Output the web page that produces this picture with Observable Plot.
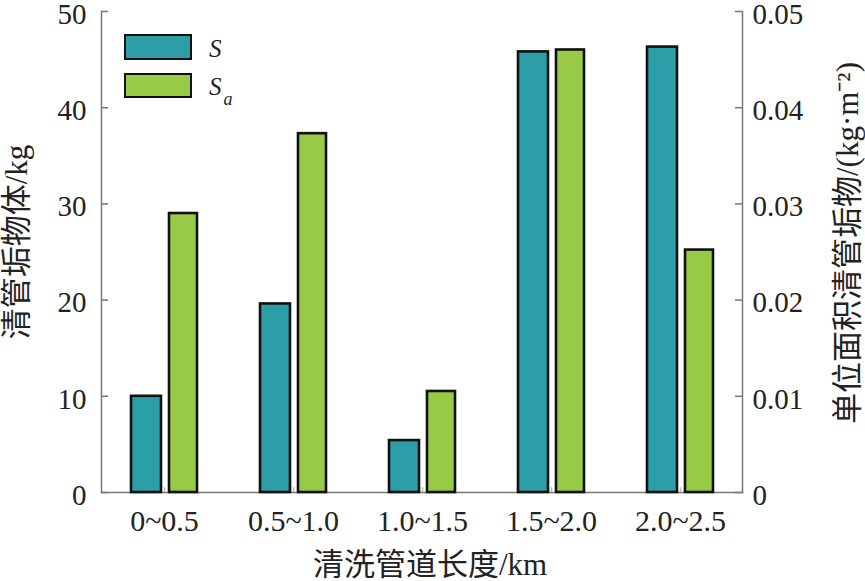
<!DOCTYPE html>
<html><head><meta charset="utf-8">
<script src="https://cdn.jsdelivr.net/npm/d3@7"></script>
<script src="https://cdn.jsdelivr.net/npm/@observablehq/plot@0.6"></script>
<style>
body{margin:0;background:#fff;}
#wrap{position:relative;width:865px;height:581px;overflow:hidden;}
#wrap svg{font-family:'Liberation Serif','Times New Roman','Noto Sans CJK SC',serif;}
.sw{position:absolute;box-sizing:border-box;border:2.6px solid #111;}
.lab{position:absolute;font-family:'Liberation Serif','Times New Roman',serif;font-style:italic;color:#222;line-height:1;white-space:nowrap;}
</style></head><body><div id="wrap"></div>
<script>
// ---- data ----
const categories = ["0~0.5", "0.5~1.0", "1.0~1.5", "1.5~2.0", "2.0~2.5"];
const seriesNames = ["S", "Sa"];
const massS = [10.0, 19.6, 5.4, 45.8, 46.3];                 // kg (left axis)
const perAreaSa = [0.0290, 0.0373, 0.0105, 0.0460, 0.0252];  // kg·m^-2 (right axis)
const leftTicks = [0, 10, 20, 30, 40, 50];
const rightTicks = [0, 0.01, 0.02, 0.03, 0.04, 0.05];
const seriesColors = ["#2c9ea7", "#98ca46"];
const xTitle = "清洗管道长度/km";
const leftTitle = "清管垢物体/kg";
const rightTitle = "单位面积清管垢物/(kg·m⁻²)";

// right axis 0.05 corresponds to left axis 50
const RIGHT_TO_LEFT = 1000;

const dataS = categories.map((c, i) => ({cat: c, series: "S", v: massS[i]}));
const dataSa = categories.map((c, i) => ({cat: c, series: "Sa", v: perAreaSa[i] * RIGHT_TO_LEFT}));
const rightTicksOnLeft = rightTicks.map(t => t * RIGHT_TO_LEFT);

const font = "'Liberation Serif', 'Times New Roman', 'Noto Sans CJK SC', serif";
const W = 865, ML = 101, MR = 123, TICK = 7;
const frameW = W - ML - MR;

const chart = Plot.plot({
  width: W,
  height: 581,
  marginLeft: ML,
  marginRight: MR,
  marginTop: 11,
  marginBottom: 89,
  style: {fontFamily: font, fontSize: "30px", color: "#222", background: "white", overflow: "visible"},
  x: {domain: categories, paddingInner: 0.489, paddingOuter: 0.224, axis: null, label: null},
  y: {domain: [0, 50], axis: null, label: null},
  color: {domain: seriesNames, range: seriesColors},
  marks: [
    Plot.frame({anchor: "left", stroke: "#777", strokeWidth: 1.5}),
    Plot.frame({anchor: "right", stroke: "#777", strokeWidth: 1.5}),
    Plot.frame({anchor: "bottom", stroke: "#777", strokeWidth: 1.5}),
    // inward ticks
    Plot.ruleY(leftTicks, {y: d => d, insetRight: frameW - TICK, stroke: "#777", strokeWidth: 1.5}),
    Plot.ruleY(rightTicksOnLeft, {y: d => d, insetLeft: frameW - TICK, stroke: "#777", strokeWidth: 1.5}),
    Plot.ruleX(categories, {x: d => d, y1: 0, y2: 0.5, stroke: "#bbb", strokeWidth: 1.5}),
    Plot.barY(dataS, {x: "cat", y: "v", fill: "series", stroke: "#111", strokeWidth: 2.6, insetRight: 36}),
    Plot.barY(dataSa, {x: "cat", y: "v", fill: "series", stroke: "#111", strokeWidth: 2.6, insetLeft: 38}),
    Plot.axisX({tickSize: 0, tickPadding: 17, fontSize: 30, label: null, fontFamily: font}),
    Plot.axisY({anchor: "left", ticks: leftTicks, tickSize: 0, tickPadding: 15, dy: 3, fontSize: 29, label: null, fontFamily: font, tickFormat: d => String(d)}),
    Plot.axisY({anchor: "right", ticks: rightTicksOnLeft, tickSize: 0, tickPadding: 10, dy: 3, fontSize: 29, label: null, fontFamily: font,
      tickFormat: d => d === 0 ? "0" : (d / RIGHT_TO_LEFT).toFixed(2)}),
    Plot.text([xTitle], {text: d => d, frameAnchor: "bottom", textAnchor: "middle", dx: 8, dy: 73, fontSize: 31, lineAnchor: "middle", fill: "#222", fontFamily: font}),
    Plot.text([leftTitle], {text: d => d, frameAnchor: "left", textAnchor: "middle", rotate: -90, dx: -84, dy: -10, fontSize: 31, lineAnchor: "middle", fill: "#222", fontFamily: font}),
    Plot.text([rightTitle], {text: d => d, frameAnchor: "right", textAnchor: "middle", rotate: -90, dx: 106, dy: -9, fontSize: 31, lineAnchor: "middle", fill: "#222", fontFamily: font})
  ]
});

const wrap = document.getElementById("wrap");
wrap.appendChild(chart);

// legend overlay
function swatch(left, top, w, h, color) {
  const d = document.createElement("div");
  d.className = "sw";
  Object.assign(d.style, {left: left + "px", top: top + "px", width: w + "px", height: h + "px", background: color});
  wrap.appendChild(d);
}
function label(left, top, html, size) {
  const d = document.createElement("div");
  d.className = "lab";
  d.innerHTML = html;
  Object.assign(d.style, {left: left + "px", top: top + "px", fontSize: size + "px"});
  wrap.appendChild(d);
}
swatch(124, 34, 68, 26, seriesColors[0]);
swatch(124, 73, 68, 25, seriesColors[1]);
label(209, 36, seriesNames[0], 25);
label(209, 74, seriesNames[0] + '<span style="font-size:18px;position:relative;top:10px;left:2px;">' + seriesNames[1].slice(1) + '</span>', 25);
</script>
</body></html>
